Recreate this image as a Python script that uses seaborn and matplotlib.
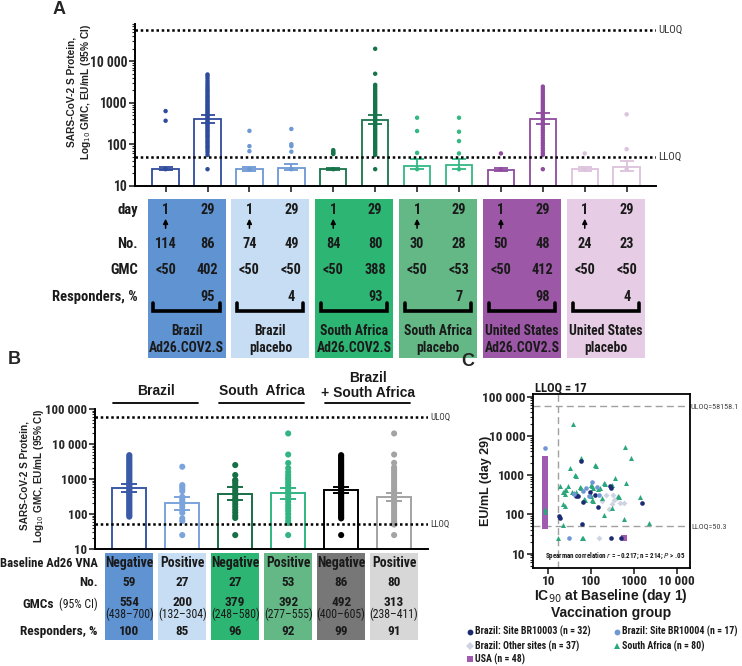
import numpy as np
import pandas as pd
import seaborn as sns
import matplotlib.pyplot as plt
import matplotlib.font_manager as fm
from matplotlib import transforms
from matplotlib.patches import Rectangle
from matplotlib.lines import Line2D
from matplotlib.ticker import LogLocator, NullFormatter

W, H = 742, 666
sns.set_theme(style="ticks")

# look for a narrow face (the reference uses an Arial Narrow look)
names = sorted({f.name for f in fm.fontManager.ttflist})
narrow = None
for cand in ['Liberation Sans Narrow', 'Arial Narrow', 'Roboto Condensed', 'Open Sans Condensed',
             'Noto Sans Condensed', 'DejaVu Sans Condensed']:
    if cand in names:
        narrow = cand
        break
if narrow is None:
    for n in names:
        if 'Narrow' in n or 'Condensed' in n:
            narrow = n
            break
COND_STRETCH = False
if narrow is None:
    for f in fm.fontManager.ttflist:
        if f.name in ('Roboto', 'Noto Sans', 'Open Sans') and 'condensed' in str(f.stretch):
            narrow = f.name
            COND_STRETCH = True
            break
SZ = 1.0 if narrow else 0.82
NARROW = [narrow, 'Liberation Sans', 'DejaVu Sans'] if narrow else ['Liberation Sans', 'DejaVu Sans']
WIDE = ['Liberation Sans', 'DejaVu Sans']
plt.rcParams['font.family'] = NARROW
if COND_STRETCH:
    plt.rcParams['font.stretch'] = 'condensed'
TXT = '#1a1a1a'


def fx(px):
    return px / W


def fy(py):
    return 1 - py / H


def fs(v):
    return v * SZ


# ---------------- panel A data ----------------
a_groups = [('Brazil', 'Ad26.COV2.S'), ('Brazil', 'placebo'),
            ('South Africa', 'Ad26.COV2.S'), ('South Africa', 'placebo'),
            ('United States', 'Ad26.COV2.S'), ('United States', 'placebo')]
a_days = ['1', '29'] * 6
a_n = [114, 86, 74, 49, 84, 80, 30, 28, 50, 48, 24, 23]
a_gmc_txt = ['<50', '402', '<50', '<50', '<50', '388', '<50', '<53', '<50', '412', '<50', '<50']
a_resp = ['', '95', '', '4', '', '93', '', '7', '', '98', '', '4']
a_gmc = [25, 402, 25, 27, 25, 388, 30, 32, 24, 412, 25, 28]
a_lo = [24, 318, 23, 24, 24, 300, 25, 25, 23, 310, 23, 22]
a_hi = [28, 500, 29, 33, 27, 500, 44, 45, 26, 556, 28, 39]

a_pts_0 = [25, 368, 630]
a_pts_1 = [25, 55, 64, 72, 81, 88, 97, 108, 118, 131, 146, 158, 172, 190, 207, 226, 248, 270,
           295, 318, 344, 372, 405, 436, 470, 508, 546, 590, 640, 690, 745, 810, 880, 960,
           1040, 1130, 1240, 1360, 1480, 1620, 1790, 1960, 2150, 2400, 2650, 3000, 3400,
           3900, 4400, 4800]
a_pts_2 = [25, 68, 90, 210]
a_pts_3 = [25, 66, 90, 100, 233]
a_pts_4 = [25, 58, 62, 66, 72]
a_pts_5 = [25, 55, 62, 70, 78, 86, 95, 106, 118, 130, 145, 160, 178, 196, 218, 240, 265, 292,
           322, 356, 392, 432, 478, 525, 580, 640, 705, 778, 860, 950, 1050, 1160, 1290, 1420,
           1580, 1760, 1950, 2200, 2450, 2700, 5000, 20000]
a_pts_6 = [25, 62, 208, 435]
a_pts_7 = [25, 60, 119, 200, 435]
a_pts_8 = [25, 60]
a_pts_9 = [25, 55, 62, 71, 82, 95, 108, 124, 143, 165, 190, 218, 250, 288, 330, 380, 430, 488,
           550, 620, 700, 790, 890, 1000, 1130, 1280, 1450, 1650, 1880, 2150, 2450]
a_pts_10 = [25, 60]
a_pts_11 = [25, 76, 525]
a_pts = [a_pts_0, a_pts_1, a_pts_2, a_pts_3, a_pts_4, a_pts_5,
         a_pts_6, a_pts_7, a_pts_8, a_pts_9, a_pts_10, a_pts_11]

a_line_colors = ['#2f4b9c', '#2f4b9c', '#6c98d4', '#6c98d4', '#17744a', '#17744a',
                 '#34b884', '#34b884', '#8f4c9e', '#8f4c9e', '#dcc3dc', '#dcc3dc']
a_box_colors = ['#5f93d2', '#c7ddf3', '#2db673', '#63b886', '#9c57a6', '#e6cde5']

# ---------------- panel B data ----------------
b_headers = [['Brazil'], ['South  Africa'], ['Brazil', '+ South Africa']]
b_vna = ['Negative', 'Positive'] * 3
b_n = [59, 27, 27, 53, 86, 80]
b_gmc = [554, 200, 379, 392, 492, 313]
b_lo = [438, 132, 248, 277, 400, 238]
b_hi = [700, 304, 580, 555, 605, 411]
b_resp = [100, 85, 96, 92, 99, 91]

b_pts_0 = [84, 92, 101, 112, 124, 138, 152, 170, 188, 210, 232, 258, 286, 318, 352, 390, 432,
           480, 532, 590, 655, 725, 805, 890, 990, 1100, 1220, 1350, 1500, 1660, 1840, 2050,
           2270, 2520, 2800, 3100, 3450, 3850, 4300, 4800]
b_pts_1 = [25, 63, 75, 108, 128, 160, 192, 230, 268, 310, 450, 520, 600, 670, 2240]
b_pts_2 = [25, 77, 90, 110, 132, 160, 192, 232, 282, 340, 400, 470, 560, 650, 760, 880, 940,
           1300, 2500]
b_pts_3 = [25, 55, 65, 80, 100, 124, 150, 180, 220, 262, 310, 370, 430, 500, 580, 680, 800,
           950, 1100, 1300, 1600, 2050, 2870, 5000, 20000]
b_pts_4 = [25, 75, 82, 90, 99, 110, 122, 135, 150, 166, 184, 204, 226, 250, 277, 306, 340,
           376, 416, 460, 510, 565, 625, 692, 766, 848, 940, 1040, 1150, 1275, 1410, 1560,
           1730, 1920, 2120, 2350, 2600, 2880, 3200, 3550, 3950, 4400, 4800]
b_pts_5 = [25, 50, 58, 68, 80, 94, 110, 128, 150, 175, 205, 240, 280, 328, 384, 450, 525,
           615, 720, 840, 985, 1150, 1350, 1580, 1850, 2150, 2900, 5000, 20000]
b_pts = [b_pts_0, b_pts_1, b_pts_2, b_pts_3, b_pts_4, b_pts_5]

b_line_colors = ['#3a5aa8', '#7ba4dc', '#176f45', '#33b583', '#000000', '#a3a3a3']
b_box_colors = ['#5f93d2', '#c7ddf3', '#2db673', '#63b886', '#777777', '#d7d7d7']

# ---------------- panel C data ----------------
c_usa_x = [8.5, 8.5, 8.5, 8.5, 8.5, 8.5, 8.5, 8.5, 8.5, 8.5, 8.5, 8.5, 8.5, 8.5, 8.5, 8.5,
           8.5, 8.5, 8.5, 8.5, 8.5, 8.5, 8.5, 8.5, 8.5, 8.5, 8.5, 8.5, 8.5, 8.5, 8.5, 8.5,
           8.5, 8.5, 8.5, 8.5, 8.5, 8.5, 8.5, 8.5, 585]
c_usa_y = [51, 55, 60, 65, 70, 76, 83, 90, 98, 106, 116, 126, 137, 149, 162, 176, 191, 208,
           226, 246, 267, 290, 316, 343, 373, 406, 441, 480, 522, 567, 617, 671, 730, 793,
           862, 940, 1100, 1350, 1800, 2500, 25]
c_sa_x = [38, 608, 870, 57, 32, 122, 128, 42, 45, 18.7, 29, 24, 22, 26, 25, 35, 40, 44, 48,
          55, 58, 68, 72, 104, 110, 97, 93, 98, 148, 160, 200, 210, 357, 315, 660, 420, 440,
          180, 104, 112, 22, 25, 315, 1400, 2300, 570, 200, 22, 17, 60, 66, 8.5, 8.5]
c_sa_y = [19800, 5150, 2650, 2750, 1480, 1800, 1750, 1000, 950, 533, 540, 414, 380, 430, 330,
          370, 360, 375, 340, 490, 460, 245, 235, 520, 480, 560, 330, 300, 440, 480, 620, 590,
          830, 560, 630, 290, 270, 260, 230, 220, 180, 165, 145, 270, 60, 75, 95, 53, 25, 25,
          25, 140, 115]
c_b3_x = [57, 270, 290, 45, 50, 64, 17.5, 19, 60, 143, 1500, 290, 510, 120, 95]
c_b3_y = [2300, 530, 480, 300, 290, 205, 90, 80, 56, 150, 195, 25, 25, 320, 380]
c_b4_x = [8.5, 30, 104, 66, 40, 90, 150, 140, 75]
c_b4_y = [4800, 25, 650, 400, 330, 300, 310, 500, 480]
c_oth_x = [228, 320, 350, 575, 180, 260, 150, 400, 300, 480]
c_oth_y = [310, 315, 230, 190, 220, 140, 25, 260, 180, 200]

c_groups = ['Brazil: Site BR10003 (n = 32)', 'Brazil: Site BR10004 (n = 17)',
            'Brazil: Other sites (n = 37)', 'South Africa (n = 80)', 'USA (n = 48)']
c_colors = ['#1b2a72', '#6f97d6', '#cdd3e3', '#2aa87a', '#a05bb0']
c_markers = ['o', 'o', 'D', '^', 's']

fig = plt.figure(figsize=(W / 100, H / 100), dpi=100)

# =============== PANEL A ===============
axA = fig.add_axes([fx(135), fy(185.7), fx(656) - fx(135), fy(23.8) - fy(185.7)])
a_cats = ['A%d' % i for i in range(12)]
df_a = pd.DataFrame({'col': a_cats, 'gmc': a_gmc})
sns.barplot(data=df_a, x='col', y='gmc', hue='col', order=a_cats, hue_order=a_cats,
            palette=a_line_colors, fill=False, linewidth=1.3, width=0.63, errorbar=None,
            legend=False, ax=axA)
pts_a = pd.DataFrame({'col': np.repeat(a_cats, [len(p) for p in a_pts]),
                      'val': np.concatenate(a_pts)})
sns.stripplot(data=pts_a, x='col', y='val', hue='col', order=a_cats, hue_order=a_cats,
              palette=a_line_colors, jitter=False, size=3.2, linewidth=0, legend=False,
              ax=axA, zorder=3)
for i in range(12):
    axA.errorbar(i, a_gmc[i], yerr=[[a_gmc[i] - a_lo[i]], [a_hi[i] - a_gmc[i]]], fmt='none',
                 ecolor=a_line_colors[i], elinewidth=1.3, capsize=4.7, capthick=1.3, zorder=4)
axA.set_yscale('log')
axA.set_ylim(10, 80000)
axA.set_xlim(-0.73, 11.70)
axA.set_yticks([10, 100, 1000, 10000])
axA.set_yticklabels(['10', '100', '1000', '10 000'])
axA.yaxis.set_minor_locator(LogLocator(base=10, subs=np.arange(2, 10)))
axA.yaxis.set_minor_formatter(NullFormatter())
axA.tick_params(axis='y', which='major', length=4, width=1.2, labelsize=fs(9.8), pad=1.5)
axA.tick_params(axis='y', which='minor', length=2.2, width=0.8)
axA.tick_params(axis='x', length=4.5, width=1.2, labelbottom=False)
for lab in axA.get_yticklabels():
    lab.set_fontweight('bold')
axA.set_xlabel('')
axA.set_ylabel('')
sns.despine(ax=axA)
for s in ['left', 'bottom']:
    axA.spines[s].set_linewidth(1.4)
    axA.spines[s].set_color('black')
for yv, lab in [(58158, 'ULOQ'), (50.3, 'LLOQ')]:
    axA.axhline(yv, color='black', lw=1.8, ls=(0, (1, 1.1)), zorder=5)
    axA.text(1.004, yv, lab, transform=transforms.blended_transform_factory(axA.transAxes, axA.transData),
             va='center', ha='left', fontsize=fs(7.8), color='#333333', clip_on=False)

blA = transforms.blended_transform_factory(axA.transData, fig.transFigure)
for g in range(6):
    mid = 2 * g + 0.5
    axA.add_patch(Rectangle((mid - 0.93, fy(358)), 1.86, fy(198.6) - fy(358), transform=blA,
                            facecolor=a_box_colors[g], edgecolor='none', clip_on=False))
    axA.text(mid, fy(331), a_groups[g][0], transform=blA, ha='center', va='center',
             fontsize=fs(9.8), fontweight='bold', color=TXT)
    axA.text(mid, fy(348), a_groups[g][1], transform=blA, ha='center', va='center',
             fontsize=fs(9.8), fontweight='bold', color=TXT)
    axA.plot([mid - 0.79, mid - 0.79, mid + 0.79, mid + 0.79], [fy(303), fy(311), fy(311), fy(303)],
             transform=blA, color='black', lw=2.6, clip_on=False, solid_joinstyle='miter')
    axA.annotate('', xy=(2 * g, fy(216)), xycoords=blA, xytext=(2 * g, fy(231)), textcoords=blA,
                 arrowprops=dict(arrowstyle='-|>', color='black', lw=1.1, mutation_scale=7),
                 annotation_clip=False)
for i in range(12):
    axA.text(i, fy(210), a_days[i], transform=blA, ha='center', va='center', fontsize=fs(10.3),
             fontweight='bold', color=TXT)
    axA.text(i, fy(244), str(a_n[i]), transform=blA, ha='center', va='center', fontsize=fs(10.3),
             fontweight='bold', color=TXT)
    axA.text(i, fy(270), a_gmc_txt[i], transform=blA, ha='center', va='center', fontsize=fs(10.3),
             fontweight='bold', color=TXT)
    if a_resp[i]:
        axA.text(i, fy(297), a_resp[i], transform=blA, ha='center', va='center', fontsize=fs(10.3),
                 fontweight='bold', color=TXT)
for py, lab in [(210, 'day'), (244, 'No.'), (270, 'GMC'), (297, 'Responders, %')]:
    fig.text(fx(138), fy(py), lab, ha='right', va='center', fontsize=fs(10.5), fontweight='bold', color=TXT)

fig.text(fx(80), fy(92), 'SARS-CoV-2 S Protein,\nLog$_{10}$ GMC, EU/mL (95% CI)', rotation=90,
         ha='center', va='center', fontsize=7.3, fontweight='bold', family=WIDE, color='#222222',
         linespacing=1.25)
fig.text(fx(59), fy(10), 'A', ha='center', va='center', fontsize=13, fontweight='bold', family=WIDE)

# =============== PANEL B ===============
axB = fig.add_axes([fx(95), fy(549), fx(428) - fx(95), fy(409) - fy(549)])
b_cats = ['B%d' % i for i in range(6)]
df_b = pd.DataFrame({'col': b_cats, 'gmc': b_gmc})
sns.barplot(data=df_b, x='col', y='gmc', hue='col', order=b_cats, hue_order=b_cats,
            palette=b_line_colors, fill=False, linewidth=1.4, width=0.64, errorbar=None,
            legend=False, ax=axB)
pts_b = pd.DataFrame({'col': np.repeat(b_cats, [len(p) for p in b_pts]),
                      'val': np.concatenate(b_pts)})
sns.stripplot(data=pts_b, x='col', y='val', hue='col', order=b_cats, hue_order=b_cats,
              palette=b_line_colors, jitter=False, size=4.4, linewidth=0, legend=False,
              ax=axB, zorder=3)
for i in range(6):
    axB.errorbar(i, b_gmc[i], yerr=[[b_gmc[i] - b_lo[i]], [b_hi[i] - b_gmc[i]]], fmt='none',
                 ecolor=b_line_colors[i], elinewidth=1.4, capsize=6, capthick=1.4, zorder=4)
axB.set_yscale('log')
axB.set_ylim(10, 100000)
axB.set_xlim(-0.648, 5.64)
axB.set_yticks([10, 100, 1000, 10000, 100000])
axB.set_yticklabels(['10', '100', '1000', '10 000', '100 000'])
axB.yaxis.set_minor_locator(LogLocator(base=10, subs=np.arange(2, 10)))
axB.yaxis.set_minor_formatter(NullFormatter())
axB.tick_params(axis='y', which='major', length=4, width=1.2, labelsize=fs(9.3), pad=1.5)
axB.tick_params(axis='y', which='minor', length=2.2, width=0.8)
axB.tick_params(axis='x', length=0, labelbottom=False)
for lab in axB.get_yticklabels():
    lab.set_fontweight('bold')
axB.set_xlabel('')
axB.set_ylabel('')
sns.despine(ax=axB)
for s in ['left', 'bottom']:
    axB.spines[s].set_linewidth(1.4)
    axB.spines[s].set_color('black')
for yv, lab in [(58158, 'ULOQ'), (50.3, 'LLOQ')]:
    axB.axhline(yv, color='black', lw=1.8, ls=(0, (1, 1.1)), zorder=5)
    axB.text(1.006, yv, lab, transform=transforms.blended_transform_factory(axB.transAxes, axB.transData),
             va='center', ha='left', fontsize=fs(6.5), color='#333333', clip_on=False)

blB = transforms.blended_transform_factory(axB.transData, fig.transFigure)
b_head_y = [[391], [391], [378, 393]]
for g in range(3):
    mid = 2 * g + 0.5
    axB.plot([mid - 0.8, mid + 0.8], [fy(403), fy(403)], transform=blB, color='black', lw=1.3,
             clip_on=False)
    for line, py in zip(b_headers[g], b_head_y[g]):
        axB.text(mid, fy(py), line, transform=blB, ha='center', va='center', fontsize=10,
                 fontweight='bold', family=WIDE, color=TXT)
for i in range(6):
    axB.add_patch(Rectangle((i - 0.455, fy(640)), 0.91, fy(553.3) - fy(640), transform=blB,
                            facecolor=b_box_colors[i], edgecolor='none', clip_on=False))
    axB.text(i, fy(563.3), b_vna[i], transform=blB, ha='center', va='center', fontsize=fs(9.8),
             fontweight='bold', color=TXT)
    axB.text(i, fy(582.7), str(b_n[i]), transform=blB, ha='center', va='center', fontsize=fs(9.5),
             fontweight='bold', color=TXT)
    axB.text(i, fy(602.3), str(b_gmc[i]), transform=blB, ha='center', va='center', fontsize=fs(9.5),
             fontweight='bold', color=TXT)
    axB.text(i, fy(614), '(%d\u2013%d)' % (b_lo[i], b_hi[i]), transform=blB, ha='center',
             va='center', fontsize=fs(8.5), color=TXT)
    axB.text(i, fy(631.7), str(b_resp[i]), transform=blB, ha='center', va='center', fontsize=fs(9.5),
             fontweight='bold', color=TXT)
for py, lab, sz in [(563.3, 'Baseline Ad26 VNA', 9), (582.7, 'No.', 9.5), (631.7, 'Responders, %', 9.5)]:
    fig.text(fx(97.7), fy(py), lab, ha='right', va='center', fontsize=fs(sz), fontweight='bold', color=TXT)
fig.text(fx(53.5), fy(604), 'GMCs', ha='right', va='center', fontsize=fs(9.5), fontweight='bold', color=TXT)
fig.text(fx(97.7), fy(604), '(95% CI)', ha='right', va='center', fontsize=fs(8.5), color=TXT)

fig.text(fx(33), fy(476), 'SARS-CoV-2 S Protein,\nLog$_{10}$ GMC, EU/mL (95% CI)', rotation=90,
         ha='center', va='center', fontsize=7.2, fontweight='bold', family=WIDE, color='#222222',
         linespacing=1.25)
fig.text(fx(14), fy(359), 'B', ha='center', va='center', fontsize=13, fontweight='bold', family=WIDE)

# =============== PANEL C ===============
axC = fig.add_axes([fx(533), fy(567.7), fx(690) - fx(533), fy(394) - fy(567.7)])
c_x = [c_b3_x, c_b4_x, c_oth_x, c_sa_x, c_usa_x]
c_y = [c_b3_y, c_b4_y, c_oth_y, c_sa_y, c_usa_y]
c_size = [11, 11, 9, 13, 14]
for k in [4, 2, 3, 0, 1]:
    sns.scatterplot(x=c_x[k], y=c_y[k], color=c_colors[k], marker=c_markers[k], s=c_size[k],
                    linewidth=0, ax=axC, zorder=3)
axC.set_xscale('log')
axC.set_yscale('log')
axC.set_xlim(4.4, 20300)
axC.set_ylim(4.4, 116000)
axC.axhline(58158.1, color='#a0a0a0', lw=1.0, ls=(0, (5, 3)), zorder=1)
axC.axhline(50.3, color='#a0a0a0', lw=1.0, ls=(0, (5, 3)), zorder=1)
axC.axvline(17, color='#a0a0a0', lw=1.0, ls=(0, (5, 3)), zorder=1)
axC.set_xticks([10, 100, 1000, 10000])
axC.set_xticklabels(['10', '100', '1000', '10 000'])
axC.set_yticks([10, 100, 1000, 10000, 100000])
axC.set_yticklabels(['10', '100', '1000', '10 000', '100 000'])
for a in [axC.xaxis, axC.yaxis]:
    a.set_minor_locator(LogLocator(base=10, subs=np.arange(2, 10)))
    a.set_minor_formatter(NullFormatter())
axC.tick_params(which='major', length=4, width=1.2, labelsize=fs(9.5), pad=1.5)
axC.tick_params(which='minor', length=2.2, width=0.8)
for lab in axC.get_xticklabels() + axC.get_yticklabels():
    lab.set_fontweight('bold')
for s in axC.spines.values():
    s.set_linewidth(1.3)
    s.set_color('black')
axC.set_xlabel('')
axC.set_ylabel('')
axC.text(1.006, 58158.1, 'ULOQ=58158.1', transform=transforms.blended_transform_factory(axC.transAxes, axC.transData),
         va='center', ha='left', fontsize=fs(5.9), color='#444444', clip_on=False)
axC.text(1.006, 50.3, 'LLOQ=50.3', transform=transforms.blended_transform_factory(axC.transAxes, axC.transData),
         va='center', ha='left', fontsize=fs(5.9), color='#444444', clip_on=False)
fig.text(fx(535), fy(388), 'LLOQ = 17', ha='left', va='center', fontsize=fs(9), fontweight='bold', color=TXT)
axC.text(0.52, 0.035, 'Spearman correlation $r$ = \u22120.217; n = 214; $P$ > .05', transform=axC.transAxes,
         ha='center', va='bottom', fontsize=fs(5), fontweight='bold', color=TXT)
fig.text(fx(611), fy(596), 'IC$_{90}$ at Baseline (day 1)', ha='center', va='center', fontsize=10,
         fontweight='bold', family=WIDE, color=TXT)
fig.text(fx(611), fy(613), 'Vaccination group', ha='center', va='center', fontsize=10,
         fontweight='bold', family=WIDE, color=TXT)
fig.text(fx(486), fy(481), 'EU/mL (day 29)', rotation=90, ha='center', va='center', fontsize=9,
         fontweight='bold', family=WIDE, color=TXT)
fig.text(fx(468), fy(362), 'C', ha='center', va='center', fontsize=13, fontweight='bold', family=WIDE)

leg_pos = [(470, 631.7), (617, 631.7), (470, 646), (617, 646), (470, 659.3)]
for k in range(5):
    mx, my = leg_pos[k]
    fig.add_artist(Line2D([fx(mx)], [fy(my)], marker=c_markers[k], color=c_colors[k], ls='none',
                          markersize=4.2, markeredgewidth=0, transform=fig.transFigure))
    fig.text(fx(mx + 5), fy(my), c_groups[k], ha='left', va='center', fontsize=fs(7.1),
             fontweight='bold', color=TXT)

fig.savefig('out.png', dpi=100)
